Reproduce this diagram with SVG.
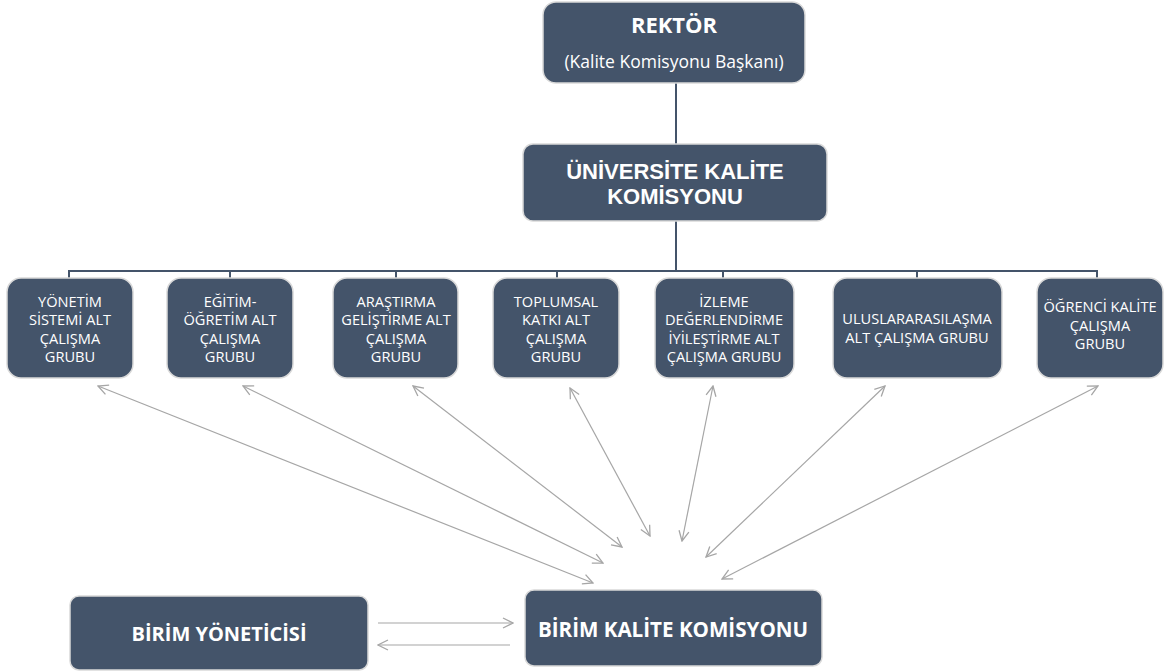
<svg xmlns="http://www.w3.org/2000/svg" width="1168" height="672" viewBox="0 0 1168 672">
<defs>
<marker id="ah" viewBox="0 0 12 12" refX="11" refY="6" markerWidth="12" markerHeight="12" markerUnits="userSpaceOnUse" orient="auto-start-reverse">
<path d="M1,1 L11,6 L1,11" fill="none" stroke="#a6a6a6" stroke-width="1.3"/>
</marker>
<style>
.box{fill:#44546a;stroke:#d9d9d9;stroke-width:1.5}
.t{fill:#ffffff;font-family:"Open Sans","Liberation Sans",sans-serif;text-anchor:middle}
.s{font-size:14.6px}
.b{font-weight:bold}
.lib{font-family:"Liberation Sans",Arial,sans-serif}
.tree{stroke:#44546a;stroke-width:2;fill:none}
.link{stroke:#a6a6a6;stroke-width:1.2;fill:none;marker-start:url(#ah);marker-end:url(#ah)}
.one{stroke:#a6a6a6;stroke-width:1.2;fill:none;marker-end:url(#ah)}
</style>
</defs>
<rect width="1168" height="672" fill="#ffffff"/>
<g id="connectors">
<path class="tree" d="M676,83 V144 M676,221 V271 M69,271 H1097 M69,270 V278 M230,270 V278 M396,270 V278 M557,270 V278 M723,270 V278 M917,270 V278 M1097,270 V278"/>
<line class="link" x1="98" y1="386" x2="593" y2="583"/>
<line class="link" x1="243" y1="386" x2="603" y2="563"/>
<line class="link" x1="413" y1="386" x2="622" y2="547"/>
<line class="link" x1="570" y1="388" x2="650" y2="536"/>
<line class="link" x1="713" y1="386" x2="682" y2="541"/>
<line class="link" x1="885" y1="386" x2="706" y2="557"/>
<line class="link" x1="1098" y1="386" x2="722" y2="579"/>
<line class="one" x1="378" y1="623" x2="513" y2="623"/>
<line class="one" x1="510" y1="645" x2="378" y2="645"/>
</g>
<g id="rektor">
<rect class="box" x="543" y="2" width="262" height="81" rx="13"/>
<text class="t b" x="674" y="33" font-size="22">REKTÖR</text>
<text class="t" x="674" y="68" font-size="17.5">(Kalite Komisyonu Başkanı)</text>
</g>
<g id="universite">
<rect class="box" x="523" y="144" width="304" height="77" rx="10"/>
<text class="t b lib" x="675" y="179" font-size="22">ÜNİVERSİTE KALİTE</text>
<text class="t b lib" x="675" y="204" font-size="22">KOMİSYONU</text>
</g>
<g id="yonetim">
<rect class="box" x="7" y="278" width="126" height="100" rx="14"/>
<text class="t s" x="70" y="307">YÖNETİM</text>
<text class="t s" x="70" y="325">SİSTEMİ ALT</text>
<text class="t s" x="70" y="343.5">ÇALIŞMA</text>
<text class="t s" x="70" y="362">GRUBU</text>
</g>
<g id="egitim">
<rect class="box" x="167" y="278" width="126" height="100" rx="14"/>
<text class="t s" x="230" y="307">EĞİTİM-</text>
<text class="t s" x="230" y="325">ÖĞRETİM ALT</text>
<text class="t s" x="230" y="343.5">ÇALIŞMA</text>
<text class="t s" x="230" y="362">GRUBU</text>
</g>
<g id="arastirma">
<rect class="box" x="333" y="278" width="125" height="100" rx="14"/>
<text class="t s" x="396" y="307">ARAŞTIRMA</text>
<text class="t s" x="396" y="325">GELİŞTİRME ALT</text>
<text class="t s" x="396" y="343.5">ÇALIŞMA</text>
<text class="t s" x="396" y="362">GRUBU</text>
</g>
<g id="toplumsal">
<rect class="box" x="493" y="278" width="126" height="100" rx="14"/>
<text class="t s" x="556" y="307">TOPLUMSAL</text>
<text class="t s" x="556" y="325">KATKI ALT</text>
<text class="t s" x="556" y="343.5">ÇALIŞMA</text>
<text class="t s" x="556" y="362">GRUBU</text>
</g>
<g id="izleme">
<rect class="box" x="655" y="278" width="139" height="100" rx="14"/>
<text class="t s" x="724" y="307">İZLEME</text>
<text class="t s" x="724" y="325">DEĞERLENDİRME</text>
<text class="t s" x="724" y="343.5">İYİLEŞTİRME ALT</text>
<text class="t s" x="724" y="362">ÇALIŞMA GRUBU</text>
</g>
<g id="uluslararasilasma">
<rect class="box" x="833" y="278" width="169" height="100" rx="14"/>
<text class="t s" x="917" y="324">ULUSLARARASILAŞMA</text>
<text class="t s" x="917" y="343">ALT ÇALIŞMA GRUBU</text>
</g>
<g id="ogrenci">
<rect class="box" x="1037" y="278" width="126" height="100" rx="14"/>
<text class="t s" x="1100" y="312">ÖĞRENCİ KALİTE</text>
<text class="t s" x="1100" y="330.5">ÇALIŞMA</text>
<text class="t s" x="1100" y="349">GRUBU</text>
</g>
<g id="birim-yoneticisi">
<rect class="box" x="70" y="596" width="298" height="74" rx="9"/>
<text class="t b" x="219" y="641" font-size="20">BİRİM YÖNETİCİSİ</text>
</g>
<g id="birim-kalite">
<rect class="box" x="525" y="590" width="297" height="76" rx="9"/>
<text class="t b" x="673" y="637" font-size="20.6">BİRİM KALİTE KOMİSYONU</text>
</g>
</svg>
